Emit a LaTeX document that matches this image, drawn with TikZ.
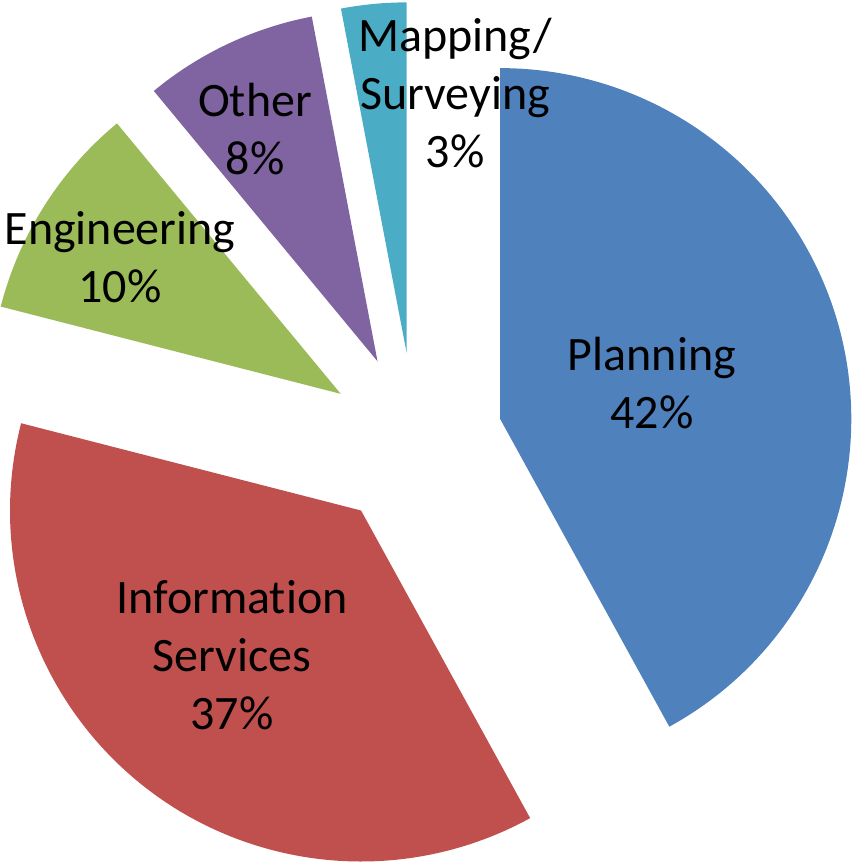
\documentclass[tikz,border=0pt]{standalone}
\usepackage{fontspec}
\setmainfont{Carlito}[Ligatures=NoCommon]
\usetikzlibrary{calc}
\definecolor{cplan}{HTML}{4F81BD}
\definecolor{cinfo}{HTML}{C0504D}
\definecolor{ceng}{HTML}{9BBB59}
\definecolor{coth}{HTML}{8064A2}
\definecolor{cmap}{HTML}{4BACC6}
\begin{document}
\begin{tikzpicture}[x=1pt,y=1pt,
  lbl/.style={align=center,font=\fontsize{48}{58}\selectfont,inner sep=0pt}]
\useasboundingbox (0,0) rectangle (854,862);
\def\R{351}
\def\D{88}
\coordinate (O) at (415,421);
% slices: start, end angle (counterclockwise)
\foreach \a/\b/\c/\n in {-61.2/90/cplan/plan, 165.6/298.8/cinfo/info, 129.6/165.6/ceng/eng, 100.8/129.6/coth/oth, 90/100.8/cmap/map}{
  \pgfmathsetmacro{\m}{(\a+\b)/2}
  \coordinate (\n) at ($(O)+(\m:\D)$);
  \fill[\c] (\n) -- ++(\a:\R) arc[start angle=\a,end angle=\b,radius=\R] -- cycle;
}
\node[lbl] (tplan) at (652,479) {Planning\\42\%};
\node[lbl] (tinfo) at (232,207) {Information\\Services\\37\%};
\node[lbl] (teng) at (120,605) {Engineering\\10\%};
\node[lbl] (toth) at (255,733) {Other\\8\%};
\node[lbl] (tmap) at (455,769) {Mapping/\\Surveying\\3\%};
\end{tikzpicture}
\end{document}
